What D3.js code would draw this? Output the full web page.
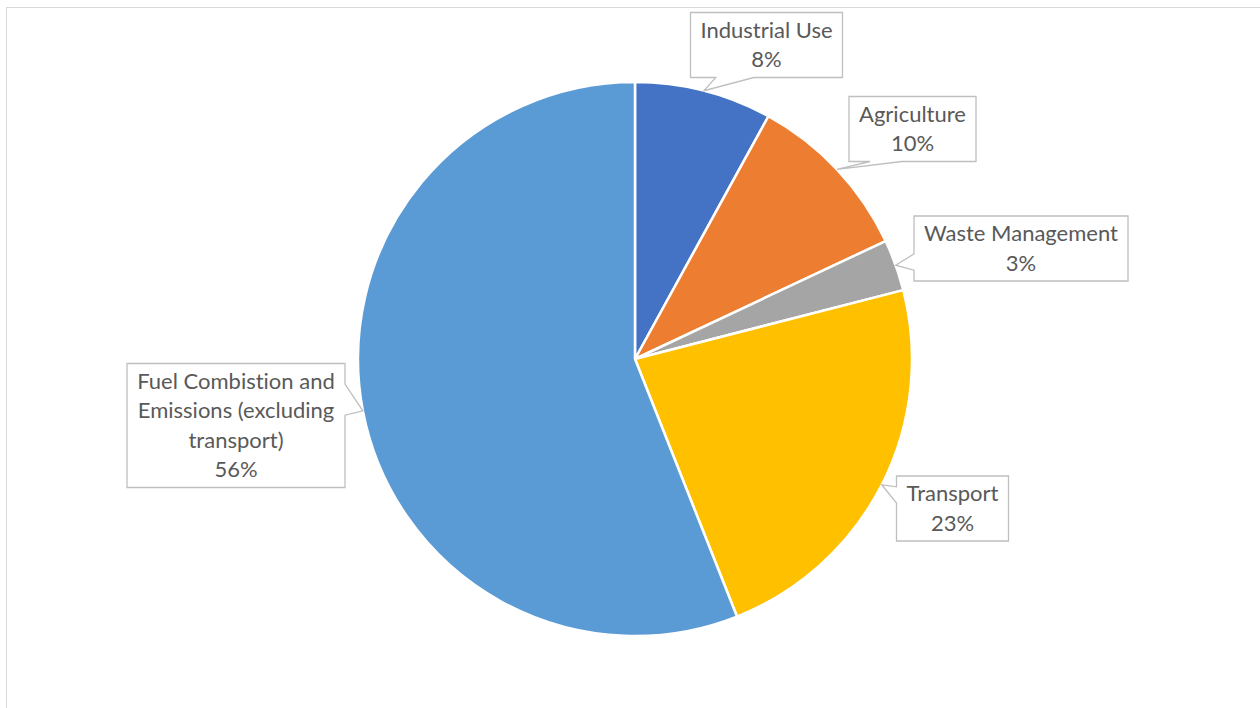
<!DOCTYPE html>
<html>
<head>
<meta charset="utf-8">
<script src="https://cdn.jsdelivr.net/npm/d3@7"></script>
<style>
  html, body { margin: 0; padding: 0; background: #fff; }
  svg { display: block; }
  text { font-family: Lato, "Open Sans", sans-serif; fill: #595959; font-variant-ligatures: none; font-feature-settings: "liga" 0; }
</style>
</head>
<body>
<svg id="chart" width="1260" height="708"></svg>
<script>
// Sources of emissions, share of total (%)
const categories = [
  "Industrial Use",
  "Agriculture",
  "Waste Management",
  "Transport",
  "Fuel Combistion and Emissions (excluding transport)"
];
const shares = [8, 10, 3, 23, 56];
const colors = ["#4472C4", "#ED7D31", "#A5A5A5", "#FFC000", "#5B9BD5"];
// how each category name wraps inside its callout
const nameLines = [
  ["Industrial Use"],
  ["Agriculture"],
  ["Waste Management"],
  ["Transport"],
  ["Fuel Combistion and", "Emissions (excluding", "transport)"]
];

const W = 1260, H = 708;
const cx = 635, cy = 359, R = 277;
const fontSize = 22, lineH = 29.5, padX = 10, padY = 2.5;
// callout box centres (layout)
const calloutCentres = [
  [766.5, 45], [912.5, 129], [1021, 248.5], [952.5, 508.5], [236, 425.5]
];

const svg = d3.select("#chart");

// chart frame
svg.append("rect")
  .attr("x", 6.5).attr("y", 7.5)
  .attr("width", W + 20).attr("height", H + 20)
  .attr("fill", "#fff").attr("stroke", "#d9d9d9").attr("stroke-width", 1);

const data = categories.map((c, i) => ({ name: c, value: shares[i], color: colors[i], lines: nameLines[i], centre: calloutCentres[i] }));

const pie = d3.pie().value(d => d.value).sort(null).startAngle(0).endAngle(2 * Math.PI);
const arcs = pie(data);
const arc = d3.arc().innerRadius(0).outerRadius(R);

const g = svg.append("g").attr("transform", `translate(${cx},${cy})`);
g.selectAll("path.slice")
  .data(arcs)
  .join("path")
  .attr("class", "slice")
  .attr("d", arc)
  .attr("fill", d => d.data.color)
  .attr("stroke", "#fff")
  .attr("stroke-width", 2.5)
  .attr("stroke-linejoin", "round");

// data callouts (rectangular wedge callouts pointing at each slice's outer edge)
const labels = svg.append("g");
arcs.forEach(a => {
  const d = a.data;
  const mid = (a.startAngle + a.endAngle) / 2;
  const tip = [cx + R * Math.sin(mid), cy - R * Math.cos(mid)];
  const lines = d.lines.concat([d3.format(".0%")(d.value / 100)]);

  const grp = labels.append("g");
  const path = grp.append("path")
    .attr("fill", "#fff").attr("stroke", "#bfbfbf").attr("stroke-width", 1.3);

  const txt = grp.append("text")
    .attr("text-anchor", "middle")
    .style("font-size", fontSize + "px");
  const n = lines.length;
  lines.forEach((s, i) => {
    txt.append("tspan")
      .attr("x", d.centre[0])
      .attr("y", d.centre[1] + (i - (n - 1) / 2) * lineH + 0.35 * fontSize)
      .text(s);
  });

  let tw = 0;
  txt.selectAll("tspan").each(function () { tw = Math.max(tw, this.getComputedTextLength()); });
  const w = Math.round(tw + 2 * padX), h = Math.round(n * lineH + 2 * padY + 1);
  const l = d.centre[0] - w / 2, t = d.centre[1] - h / 2, r = l + w, b = t + h;

  // wedge placement following the rectangular callout geometry
  const dx = tip[0] - d.centre[0], dy = tip[1] - d.centre[1];
  const dq = dx * h / w;
  const p = d3.path();
  p.moveTo(l, t);
  if (Math.abs(dy) > Math.abs(dq)) {
    const x1 = l + w * (dx > 0 ? 7 : 2) / 12, x2 = l + w * (dx > 0 ? 10 : 5) / 12;
    if (dy < 0) {
      p.lineTo(x1, t); p.lineTo(tip[0], tip[1]); p.lineTo(x2, t);
      p.lineTo(r, t); p.lineTo(r, b); p.lineTo(l, b);
    } else {
      p.lineTo(r, t); p.lineTo(r, b);
      p.lineTo(x2, b); p.lineTo(tip[0], tip[1]); p.lineTo(x1, b);
      p.lineTo(l, b);
    }
  } else {
    const y1 = t + h * (dy > 0 ? 7 : 2) / 12, y2 = t + h * (dy > 0 ? 10 : 5) / 12;
    if (dx > 0) {
      p.lineTo(r, t); p.lineTo(r, y1); p.lineTo(tip[0], tip[1]); p.lineTo(r, y2);
      p.lineTo(r, b); p.lineTo(l, b);
    } else {
      p.lineTo(r, t); p.lineTo(r, b); p.lineTo(l, b);
      p.lineTo(l, y2); p.lineTo(tip[0], tip[1]); p.lineTo(l, y1);
    }
  }
  p.closePath();
  path.attr("d", p.toString());
});
</script>
</body>
</html>
